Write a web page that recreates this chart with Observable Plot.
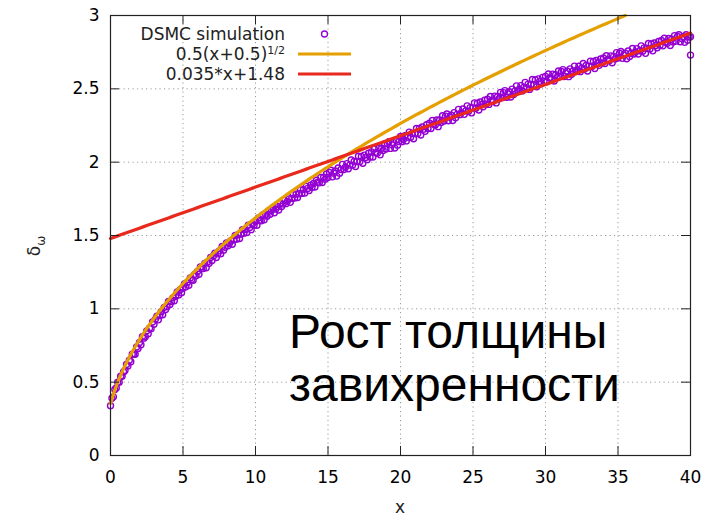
<!DOCTYPE html>
<html><head><meta charset="utf-8">
<script src="https://cdn.jsdelivr.net/npm/d3@7"></script>
<script src="https://cdn.jsdelivr.net/npm/@observablehq/plot@0.6"></script>
<style>body{margin:0;background:#fff}</style>
</head><body><div id="chart"></div>
<script>
// DSMC simulation samples (x = 0, 0.1, 0.2, ... 40)
const dsmcXStep = 0.1;
const dsmcY = [
  0.34,0.39,0.40,0.45,0.46,0.50,0.50,0.54,0.54,0.57,
  0.58,0.62,0.61,0.65,0.64,0.69,0.69,0.69,0.74,0.73,
  0.77,0.755,0.81,0.80,0.81,0.85,0.83,0.87,0.865,0.91,
  0.895,0.93,0.95,0.925,0.955,0.98,0.96,1.01,0.995,1.015,
  1.05,1.03,1.05,1.075,1.055,1.085,1.115,1.095,1.13,1.11,
  1.14,1.17,1.15,1.18,1.16,1.21,1.20,1.195,1.235,1.225,
  1.255,1.235,1.285,1.275,1.275,1.31,1.28,1.32,1.31,1.35,
  1.33,1.36,1.38,1.35,1.375,1.395,1.375,1.425,1.40,1.42,
  1.45,1.43,1.445,1.465,1.44,1.47,1.50,1.475,1.505,1.48,
  1.51,1.54,1.515,1.54,1.52,1.57,1.555,1.54,1.58,1.57,
  1.595,1.57,1.62,1.605,1.60,1.64,1.607,1.644,1.631,1.668,
  1.645,1.67,1.688,1.655,1.681,1.698,1.674,1.72,1.697,1.714,
  1.74,1.717,1.733,1.75,1.726,1.753,1.779,1.756,1.782,1.759,
  1.785,1.811,1.787,1.813,1.789,1.835,1.821,1.807,1.843,1.829,
  1.855,1.831,1.877,1.863,1.859,1.895,1.861,1.897,1.883,1.919,
  1.895,1.93,1.945,1.90,1.925,1.94,1.905,1.96,1.925,1.95,
  1.985,1.95,1.965,1.99,1.955,1.98,2.015,1.98,2.005,1.97,
  2.005,2.04,2.004,2.039,1.993,2.048,2.032,2.017,2.061,2.036,
  2.07,2.035,2.09,2.065,2.06,2.095,2.05,2.095,2.08,2.125,
  2.09,2.125,2.139,2.094,2.118,2.133,2.097,2.152,2.116,2.141,
  2.175,2.14,2.155,2.18,2.145,2.17,2.205,2.17,2.195,2.16,
  2.195,2.23,2.195,2.23,2.185,2.24,2.225,2.21,2.255,2.23,
  2.265,2.23,2.284,2.259,2.253,2.288,2.242,2.287,2.271,2.316,
  2.28,2.314,2.328,2.282,2.306,2.32,2.284,2.338,2.302,2.326,
  2.36,2.324,2.338,2.362,2.326,2.35,2.384,2.348,2.372,2.336,
  2.37,2.404,2.368,2.402,2.356,2.41,2.394,2.378,2.422,2.396,
  2.43,2.394,2.448,2.422,2.416,2.45,2.404,2.448,2.432,2.476,
  2.44,2.474,2.488,2.442,2.466,2.48,2.444,2.498,2.462,2.486,
  2.52,2.484,2.498,2.522,2.486,2.51,2.544,2.508,2.532,2.496,
  2.53,2.564,2.527,2.561,2.514,2.568,2.551,2.535,2.578,2.552,
  2.585,2.548,2.601,2.574,2.567,2.60,2.553,2.596,2.579,2.622,
  2.585,2.618,2.631,2.584,2.607,2.62,2.583,2.636,2.599,2.622,
  2.655,2.618,2.631,2.654,2.617,2.64,2.673,2.636,2.659,2.622,
  2.655,2.689,2.652,2.686,2.639,2.693,2.676,2.66,2.703,2.677,
  2.71,2.673,2.726,2.699,2.692,2.725,2.678,2.721,2.704,2.747,
  2.71,2.743,2.755,2.708,2.73,2.743,2.705,2.758,2.72,2.743,
  2.775,2.738,2.751,2.774,2.737,2.76,2.793,2.756,2.779,2.742,
  2.775,2.809,2.772,2.806,2.759,2.813,2.796,2.78,2.823,2.797,
  2.83,2.793,2.845,2.818,2.81,2.843,2.795,2.838,2.82,2.863,
  2.825,2.857,2.869,2.821,2.843,2.855,2.817,2.869,2.831,2.853,
  2.855
];
// one stray sample at the end of the run
const strayX = [40];
const strayY = [2.73];

// fitted curves shown in the legend
const sqrtCoef = 0.5, sqrtShift = 0.5;      // 0.5(x+0.5)^1/2
const linSlope = 0.035, linIntercept = 1.48; // 0.035*x+1.48

const xTicks = [0,5,10,15,20,25,30,35,40];
const yTicks = [0,0.5,1,1.5,2,2.5,3];
const legendLabels = ["DSMC simulation", "0.5(x+0.5)", "0.035*x+1.48"];
const noteLines = ["Рост толщины", "завихренности"];

const dsmc = dsmcY.map((y, i) => ({x: +(i * dsmcXStep).toFixed(1), y}))
  .concat(strayX.map((x, i) => ({x, y: strayY[i]})));

const xs = d3.range(0, 161).map(i => i * 0.25);
const sqrtCurve = xs.map(x => ({x, y: sqrtCoef * Math.sqrt(x + sqrtShift)})).filter(d => d.y <= 3.0001);
const linCurve = xs.map(x => ({x, y: linSlope * x + linIntercept}));

const W = 724, H = 517;
const mL = 110, mR = 34, mT = 15, mB = 62;
const pw = W - mL - mR, ph = H - mT - mB;
const purple = "#9400d3", orange = "#e69f00", red = "#e8291c";
const tick = 9;

const plot = Plot.plot({
  width: W, height: H,
  marginLeft: mL, marginRight: mR, marginTop: mT, marginBottom: mB,
  x: {domain: [0, 40]},
  y: {domain: [0, 3]},
  style: {fontFamily: "DejaVu Sans", fontSize: "17px", color: "#000", background: "#fff", overflow: "visible"},
  marks: [
    Plot.gridX(xTicks.slice(1, -1), {stroke: "#9a9a9a", strokeOpacity: 1, strokeDasharray: "1.2,3.3"}),
    Plot.gridY(yTicks.slice(1, -1), {stroke: "#9a9a9a", strokeOpacity: 1, strokeDasharray: "1.2,3.3"}),
    Plot.dot(dsmc, {x: "x", y: "y", r: 3, stroke: purple, strokeWidth: 1.4, fill: "none"}),
    Plot.line(sqrtCurve, {x: "x", y: "y", stroke: orange, strokeWidth: 3.2}),
    Plot.line(linCurve, {x: "x", y: "y", stroke: red, strokeWidth: 3.2}),
    Plot.tickX(xTicks, {x: d => d, insetTop: ph - tick, stroke: "#222"}),
    Plot.tickX(xTicks, {x: d => d, insetBottom: ph - tick, stroke: "#222"}),
    Plot.tickY(yTicks, {y: d => d, insetRight: pw - tick, stroke: "#222"}),
    Plot.tickY(yTicks, {y: d => d, insetLeft: pw - tick, stroke: "#222"}),
    Plot.frame({stroke: "#222", strokeWidth: 1.2}),
    Plot.axisX(xTicks, {tickSize: 0, tickPadding: 15, label: null, tickFormat: d => String(d)}),
    Plot.axisY(yTicks, {tickSize: 0, tickPadding: 11, label: null, tickFormat: d => String(d)})
  ]
});
document.getElementById("chart").appendChild(plot);

const svg = d3.select(plot);
const font = "DejaVu Sans";
// axis titles
svg.append("text").attr("x", 400).attr("y", 513).attr("text-anchor", "middle")
  .attr("font-family", font).attr("font-size", 17).attr("fill", "#222").text("x");
const yl = svg.append("text").attr("transform", "translate(40,246) rotate(-90)")
  .attr("text-anchor", "middle").attr("font-family", font).attr("font-size", 17).attr("fill", "#222");
yl.append("tspan").text("δ");
yl.append("tspan").attr("font-size", 12).attr("dy", 5).text("ω");

// legend
const lx = 285, sx1 = 298, sx2 = 351;
const rows = [34, 54, 74];
const lt = (i) => svg.append("text").attr("x", lx).attr("y", rows[i]).attr("dy", "0.36em")
  .attr("text-anchor", "end").attr("font-family", font).attr("font-size", 17).attr("fill", "#222");
lt(0).text(legendLabels[0]);
const t1 = lt(1); t1.append("tspan").text(legendLabels[1]);
t1.append("tspan").attr("font-size", 11).attr("dy", -6).text("1/2");
lt(2).text(legendLabels[2]);
svg.append("circle").attr("cx", (sx1 + sx2) / 2).attr("cy", rows[0]).attr("r", 3)
  .attr("fill", "none").attr("stroke", purple).attr("stroke-width", 1.3);
svg.append("line").attr("x1", sx1).attr("x2", sx2).attr("y1", rows[1]).attr("y2", rows[1])
  .attr("stroke", orange).attr("stroke-width", 3.2);
svg.append("line").attr("x1", sx1).attr("x2", sx2).attr("y1", rows[2]).attr("y2", rows[2])
  .attr("stroke", red).attr("stroke-width", 3.2);

// annotation
svg.append("text").attr("x", 289).attr("y", 348).attr("text-anchor", "start").attr("font-family", "Liberation Sans")
  .attr("font-size", 48).attr("fill", "#000").text(noteLines[0]);
svg.append("text").attr("x", 289).attr("y", 401).attr("text-anchor", "start").attr("font-family", "Liberation Sans")
  .attr("font-size", 48).attr("fill", "#000").text(noteLines[1]);
</script>
</body></html>
